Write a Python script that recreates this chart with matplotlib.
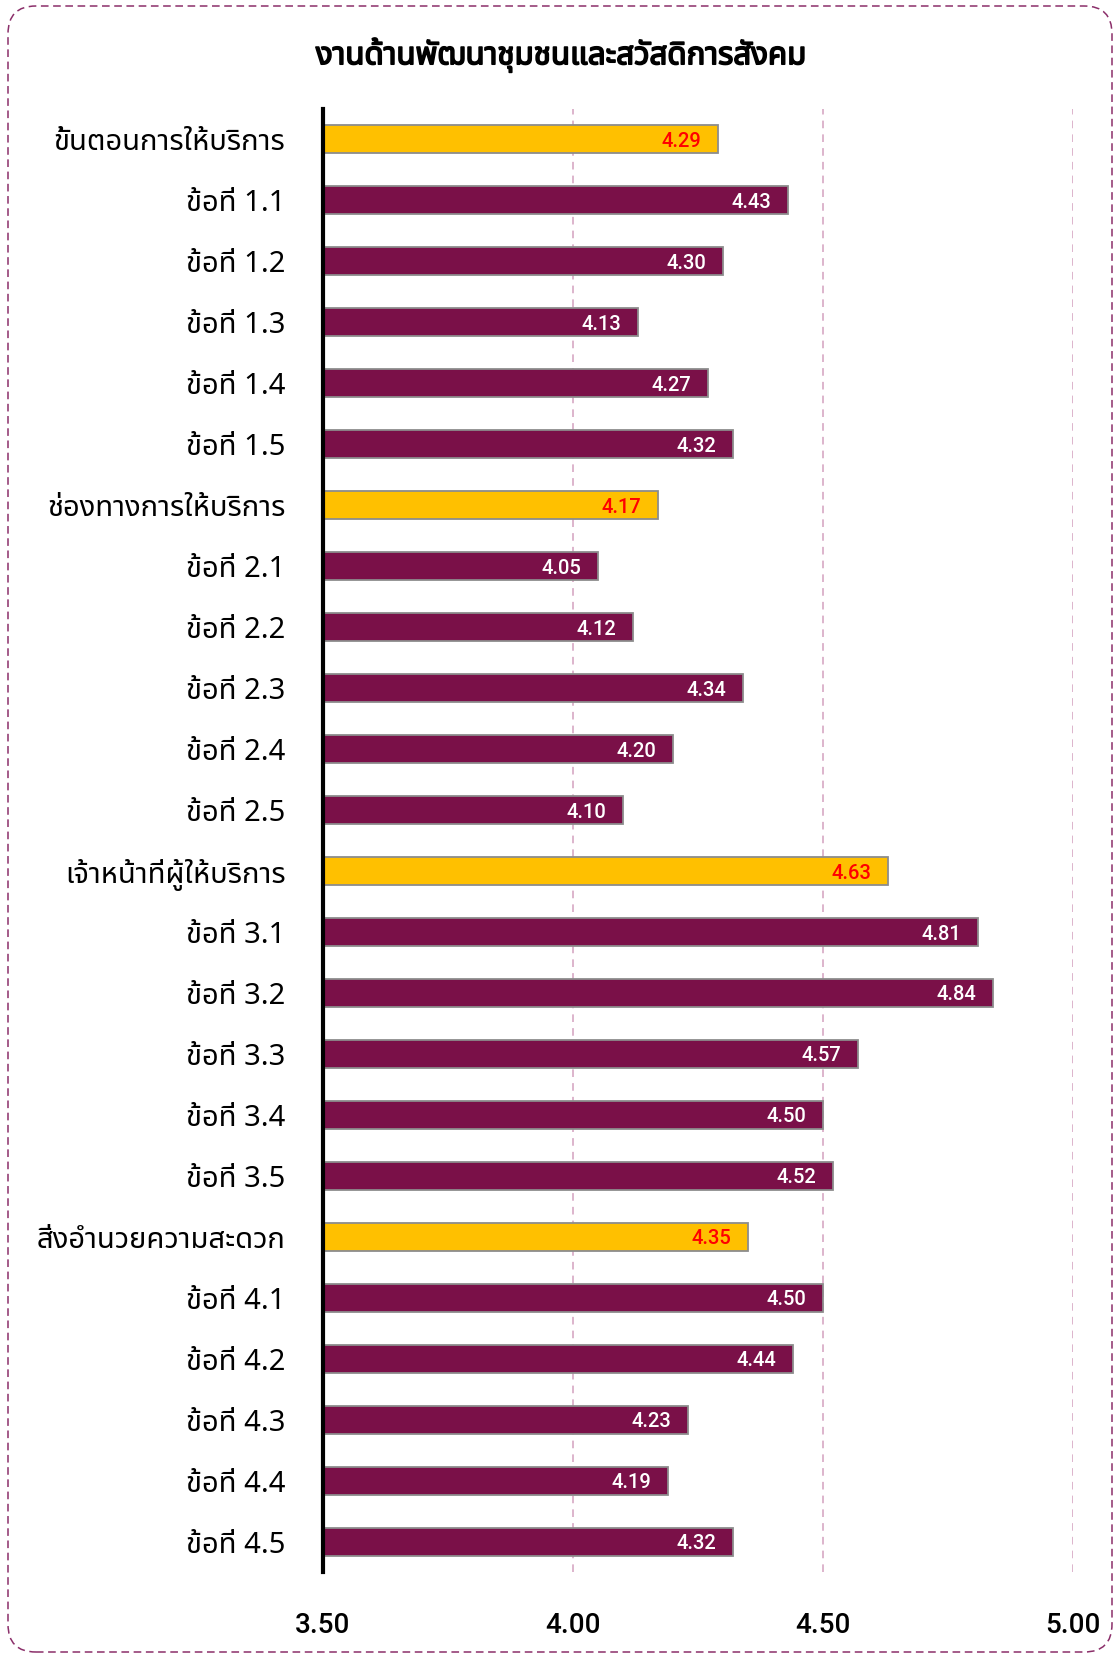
import matplotlib
matplotlib.use("Agg")
import matplotlib.pyplot as plt
from matplotlib import font_manager as fm
from matplotlib.ft2font import FT2Font
from matplotlib.patches import FancyBboxPatch
import matplotlib.patheffects as pe

# ---------------- data ----------------
categories = [
    "ขั้นตอนการให้บริการ", "ข้อที่ 1.1", "ข้อที่ 1.2", "ข้อที่ 1.3", "ข้อที่ 1.4", "ข้อที่ 1.5",
    "ช่องทางการให้บริการ", "ข้อที่ 2.1", "ข้อที่ 2.2", "ข้อที่ 2.3", "ข้อที่ 2.4", "ข้อที่ 2.5",
    "เจ้าหน้าที่ผู้ให้บริการ", "ข้อที่ 3.1", "ข้อที่ 3.2", "ข้อที่ 3.3", "ข้อที่ 3.4", "ข้อที่ 3.5",
    "สิ่งอำนวยความสะดวก", "ข้อที่ 4.1", "ข้อที่ 4.2", "ข้อที่ 4.3", "ข้อที่ 4.4", "ข้อที่ 4.5",
]
values = [
    4.29, 4.43, 4.30, 4.13, 4.27, 4.32,
    4.17, 4.05, 4.12, 4.34, 4.20, 4.10,
    4.63, 4.81, 4.84, 4.57, 4.50, 4.52,
    4.35, 4.50, 4.44, 4.23, 4.19, 4.32,
]
is_group = [
    True, False, False, False, False, False,
    True, False, False, False, False, False,
    True, False, False, False, False, False,
    True, False, False, False, False, False,
]
title = "งานด้านพัฒนาชุมชนและสวัสดิการสังคม"
xticks = [3.50, 4.00, 4.50, 5.00]
xtick_labels = ["3.50", "4.00", "4.50", "5.00"]
x_min, x_max = 3.5, 5.0

# ---------------- fonts ----------------
def find_thai_font():
    prefs = []
    for f in fm.fontManager.ttflist:
        try:
            cmap = FT2Font(f.fname).get_charmap()
        except Exception:
            continue
        if 0x0E01 in cmap and 0x0E49 in cmap:
            prefs.append(f.name)
    order = ["Noto Sans Thai", "Noto Sans Thai Looped", "Tahoma", "Loma", "Garuda", "Sarabun",
             "Kinnari", "Norasi", "Waree", "Umpush", "DejaVu Sans"]
    for o in order:
        if o in prefs:
            return o
    return prefs[0] if prefs else "DejaVu Sans"

thai_font = find_thai_font()
thai_family = [thai_font, "DejaVu Sans"]
num_font = ["Roboto", "DejaVu Sans"]

# ---------------- figure ----------------
W, H = 1115, 1661
fig = plt.figure(figsize=(W / 100, H / 100), dpi=100)

ax_left, ax_right = 323 / W, 1073 / W
ax_top, ax_bottom = 1 - 109 / H, 1 - 1572 / H
ax = fig.add_axes([ax_left, ax_bottom, ax_right - ax_left, ax_top - ax_bottom])

purple = "#7A1048"
yellow = "#FFC000"
ypos = list(range(len(categories)))
colors = [yellow if g else purple for g in is_group]

ax.barh(ypos, [v - x_min for v in values], left=x_min, height=0.46,
        color=colors, edgecolor="#8C8C8C", linewidth=1.3, zorder=3)

for y, v, g in zip(ypos, values, is_group):
    ax.annotate(f"{v:.2f}", xy=(v, y), xytext=(-12, -1.5), textcoords="offset points",
                ha="right", va="center", fontsize=14.5, family=num_font,
                fontweight="medium", color="#FF0000" if g else "white", zorder=4)

ax.set_xlim(x_min, x_max)
ax.set_ylim(len(categories) - 0.5, -0.5)

for xt in xticks[1:]:
    ax.axvline(xt, color="#D3A1BF", linestyle=(0, (5, 4)), linewidth=1.1, zorder=1)

for s in ["top", "right", "bottom"]:
    ax.spines[s].set_visible(False)
ax.spines["left"].set_linewidth(3)
ax.spines["left"].set_color("black")
ax.spines["left"].set_zorder(5)

ax.set_yticks(ypos)
ax.set_yticklabels(categories, family=thai_family, fontsize=21)
ax.tick_params(axis="y", length=0, pad=27)
ax.set_xticks(xticks)
ax.set_xticklabels(xtick_labels, family=num_font, fontsize=20, fontweight="medium")
ax.tick_params(axis="x", length=0, pad=29)

fig.text(561 / W, 1 - 55 / H, title, ha="center", va="center", fontsize=22.5,
         fontweight="bold", family=thai_family,
         path_effects=[pe.withStroke(linewidth=1.2, foreground="black")])

border = FancyBboxPatch((8 / W, 9 / H), (1112 - 8) / W, (1655 - 9) / H,
                        boxstyle="round,pad=0,rounding_size=0.025",
                        transform=fig.transFigure, fill=False,
                        edgecolor="#8B2F6A", linewidth=1.1, linestyle=(0, (5, 3)),
                        mutation_aspect=W / H)
fig.patches.append(border)

fig.savefig("out.png", dpi=100)
